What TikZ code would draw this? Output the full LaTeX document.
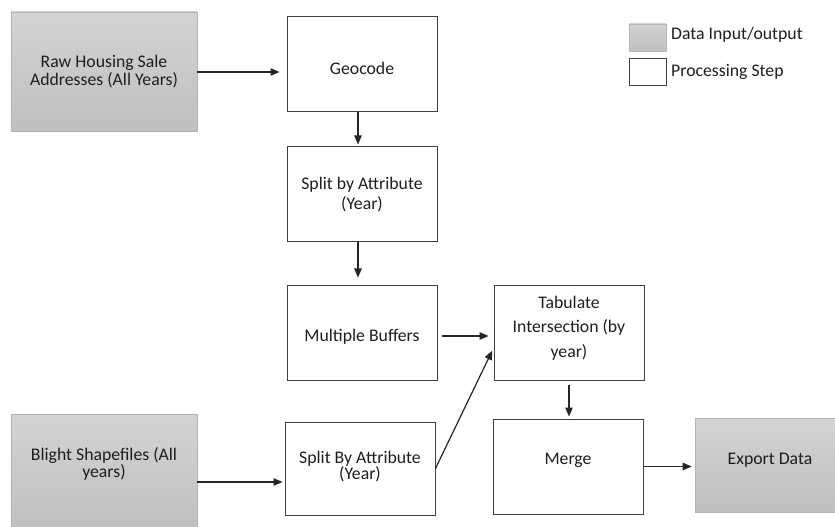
\documentclass[tikz,border=0pt]{standalone}
\usepackage{fontspec}
\setmainfont{Carlito}
\usetikzlibrary{arrows.meta}
\definecolor{txt}{HTML}{1E1E1E}
\definecolor{iotop}{HTML}{D3D3D3}
\definecolor{iobot}{HTML}{BFBFBF}
\definecolor{ioedge}{HTML}{B4B4B4}
\definecolor{stepedge}{HTML}{404040}
\tikzset{
  base/.style={rectangle, inner sep=2bp, align=center, text=txt,
    font=\fontsize{17.8}{17.5}\selectfont},
  iobox/.style={base, top color=iotop, bottom color=iobot, draw=ioedge, line width=0.8bp},
  stepbox/.style={base, fill=white, draw=stepedge, line width=1bp},
  arr/.style={-{Triangle[length=9bp,width=7.5bp]}, line width=1.2bp, draw=black!85},
  legtext/.style={anchor=west, text=txt, inner sep=0, font=\fontsize{17.8}{17.5}\selectfont}
}
\begin{document}
\begin{tikzpicture}[x=1bp,y=-1bp]
\useasboundingbox (0,0) rectangle (835,527);
% input/output boxes
\node[iobox, minimum width=186bp, minimum height=119bp] (raw) at (104,71.5) {Raw Housing Sale\\Addresses (All Years)};
\node[iobox, minimum width=186bp, minimum height=119bp] (blight) at (104,473.5) {};
\node[base] (blighttxt) at (104,464) {Blight Shapefiles (All\\years)};
\node[iobox, minimum width=150bp, minimum height=94bp] (export) at (770,465) {};
\node[base] (exporttxt) at (770,460) {Export Data};
% processing steps
\node[stepbox, minimum width=150bp, minimum height=95bp] (geo) at (362,64.5) {};
\node[base] (geotxt) at (362,68) {Geocode};
\node[stepbox, minimum width=150bp, minimum height=95bp, font=\fontsize{17.8}{20}\selectfont] (split1) at (362,194.5) {Split by Attribute\\(Year)};
\node[stepbox, minimum width=150bp, minimum height=94bp] (buf) at (362,333) {};
\node[base] (buftxt) at (362,337) {Multiple Buffers};
\node[stepbox, minimum width=150bp, minimum height=94bp] (tab) at (569,333) {};
\node[base, font=\fontsize{17.8}{24.5}\selectfont] (tabtxt) at (569,328) {Tabulate\\Intersection (by\\year)};
\node[stepbox, minimum width=150bp, minimum height=93bp] (split2) at (360,468.5) {};
\node[base, font=\fontsize{17.8}{15.5}\selectfont] (split2txt) at (360,466.5) {Split By Attribute\\(Year)};
\node[stepbox, minimum width=150bp, minimum height=95bp] (merge) at (568,466.5) {};
\node[base] (mergetxt) at (568,460) {Merge};
% legend
\node[iobox, minimum width=37bp, minimum height=27bp] (legio) at (647.5,37.5) {};
\node[stepbox, minimum width=37bp, minimum height=27bp] (legstep) at (647.5,72.5) {};
\node[legtext] (legiotxt) at (671,35) {Data Input/output};
\node[legtext] (legsteptxt) at (671,72) {Processing Step};
% connectors
\draw[arr, shorten >=7bp] ([yshift=-0.5bp]raw.east) -- ([yshift=-0.5bp]raw.east -| geo.west);
\draw[arr, shorten >=2bp] ([xshift=-4bp]geo.south) -- ([xshift=-4bp]split1.north);
\draw[arr, shorten >=8bp] ([xshift=-4bp]split1.south) -- ([xshift=-4bp]buf.north);
\draw[arr, shorten <=4bp, shorten >=5bp] ([yshift=-3bp]buf.east) -- ([yshift=-3bp]buf.east -| tab.west);
\draw[arr, shorten >=3bp] (split2.east) -- ([yshift=-15bp]tab.west);
\draw[arr, shorten <=4bp, shorten >=2bp] (tab.south) -- (tab.south |- merge.north);
\draw[arr, shorten >=3bp] (merge.east) -- (merge.east -| export.west);
\draw[arr, shorten >=2bp] ([yshift=-13.5bp]split2.west -| blight.east) -- ([yshift=-13.5bp]split2.west);
\end{tikzpicture}
\end{document}
